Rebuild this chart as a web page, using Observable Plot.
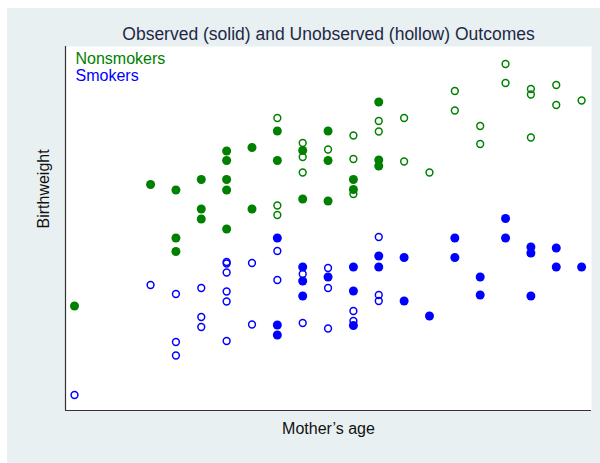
<!DOCTYPE html>
<html>
<head>
<meta charset="utf-8">
<script src="https://cdn.jsdelivr.net/npm/d3@7"></script>
<script src="https://cdn.jsdelivr.net/npm/@observablehq/plot@0.6"></script>
<style>
  html, body { margin: 0; padding: 0; background: #ffffff; width: 600px; height: 463px; overflow: hidden; }
  #chart { position: absolute; left: 7px; top: 8px; width: 593px; height: 455px; background: #e9f0f2; }
  #chart svg { display: block; background: transparent; font-family: "Liberation Sans", Arial, Helvetica, sans-serif; }
</style>
</head>
<body>
<div id="chart"></div>
<script>
// [mother's age, birthweight (g)]
const nonsmokersObserved = [
  [15, 2045], [18, 3260], [19, 3205], [19, 2725], [19, 2590],
  [20, 3310], [20, 3015], [20, 2915],
  [21, 3595], [21, 3500], [21, 3310], [21, 3205], [21, 2815],
  [22, 3630], [22, 3015], [23, 3795], [23, 3500],
  [24, 3600], [24, 3115], [25, 3795], [25, 3500], [25, 3095],
  [26, 3310], [26, 3210], [27, 4085], [27, 3505], [27, 3445]
];
const nonsmokersUnobserved = [
  [23, 3925], [23, 3050], [23, 2955], [24, 3675], [24, 3535], [24, 3380],
  [25, 3610], [26, 3750], [26, 3515], [26, 3165], [27, 3895], [27, 3790],
  [28, 3925], [28, 3490], [29, 3380], [30, 4195], [30, 4000],
  [31, 3845], [31, 3665], [32, 4465], [32, 4275],
  [33, 4215], [33, 4160], [33, 3730], [34, 4255], [34, 4055], [35, 4100]
];
const smokersObserved = [
  [23, 2725], [23, 1855], [23, 1755], [24, 2435], [24, 2295], [24, 2145],
  [25, 2335], [26, 2435], [26, 2195], [26, 1850], [27, 2545], [27, 2435],
  [28, 2530], [28, 2095], [29, 1945], [30, 2725], [30, 2530],
  [31, 2335], [31, 2155], [32, 2920], [32, 2725],
  [33, 2635], [33, 2575], [33, 2145], [34, 2625], [34, 2435], [35, 2435]
];
const smokersUnobserved = [
  [15, 1155], [18, 2255], [19, 2165], [19, 1685], [19, 1550],
  [20, 2225], [20, 1935], [20, 1835],
  [21, 2485], [21, 2470], [21, 2380], [21, 2190], [21, 2090], [21, 1695],
  [22, 2475], [22, 1860], [23, 2595], [23, 2305], [24, 2365], [24, 1875],
  [25, 2425], [25, 2225], [25, 1820], [26, 1995], [26, 1895],
  [27, 2735], [27, 2155], [27, 2095]
];
const titleText = ["Observed (solid) and Unobserved (hollow) Outcomes"];
const xLabel = ["Mother’s age"];
const yLabel = ["Birthweight"];
const legendLabels = ["Nonsmokers", "Smokers"];

const green = "#008000";
const blue = "#0000ff";
const xDomain = [14.645, 35.39];
const yDomain = [1000, 4640];

const hollow = (data, color) => Plot.dot(data, {x: d => d[0], y: d => d[1], r: 3.4, stroke: color, strokeWidth: 1.5, fill: "none"});
const solid = (data, color) => Plot.dot(data, {x: d => d[0], y: d => d[1], r: 4.5, fill: color, stroke: "none"});

const chart = Plot.plot({
  width: 593,
  height: 455,
  marginLeft: 58,
  marginRight: 9,
  marginTop: 38,
  marginBottom: 53,
  style: {background: "transparent", fontFamily: "'Liberation Sans', Arial, Helvetica, sans-serif"},
  x: {domain: xDomain, axis: null},
  y: {domain: yDomain, axis: null},
  marks: [
    Plot.frame({fill: "white", stroke: null}),
    Plot.ruleX([xDomain[0]], {stroke: "#333", strokeWidth: 1.2}),
    Plot.ruleY([yDomain[0]], {stroke: "#333", strokeWidth: 1.2}),
    hollow(nonsmokersUnobserved, green),
    solid(nonsmokersObserved, green),
    hollow(smokersUnobserved, blue),
    solid(smokersObserved, blue),
    Plot.text(titleText, {frameAnchor: "top", text: d => d, dy: -6.5, lineAnchor: "bottom", fontSize: 17.5, fill: "#1e2846"}),
    Plot.text(xLabel, {frameAnchor: "bottom", text: d => d, dy: 23, lineAnchor: "bottom", fontSize: 16, fill: "#111"}),
    Plot.text(yLabel, {frameAnchor: "left", text: d => d, dx: -22, rotate: -90, lineAnchor: "middle", fontSize: 16, fill: "#111"}),
    Plot.text([legendLabels[0]], {frameAnchor: "top-left", text: d => d, dx: 10, dy: 17, textAnchor: "start", lineAnchor: "bottom", fontSize: 16, fill: green}),
    Plot.text([legendLabels[1]], {frameAnchor: "top-left", text: d => d, dx: 10, dy: 34, textAnchor: "start", lineAnchor: "bottom", fontSize: 16, fill: blue})
  ]
});
document.getElementById("chart").appendChild(chart);
</script>
</body>
</html>
